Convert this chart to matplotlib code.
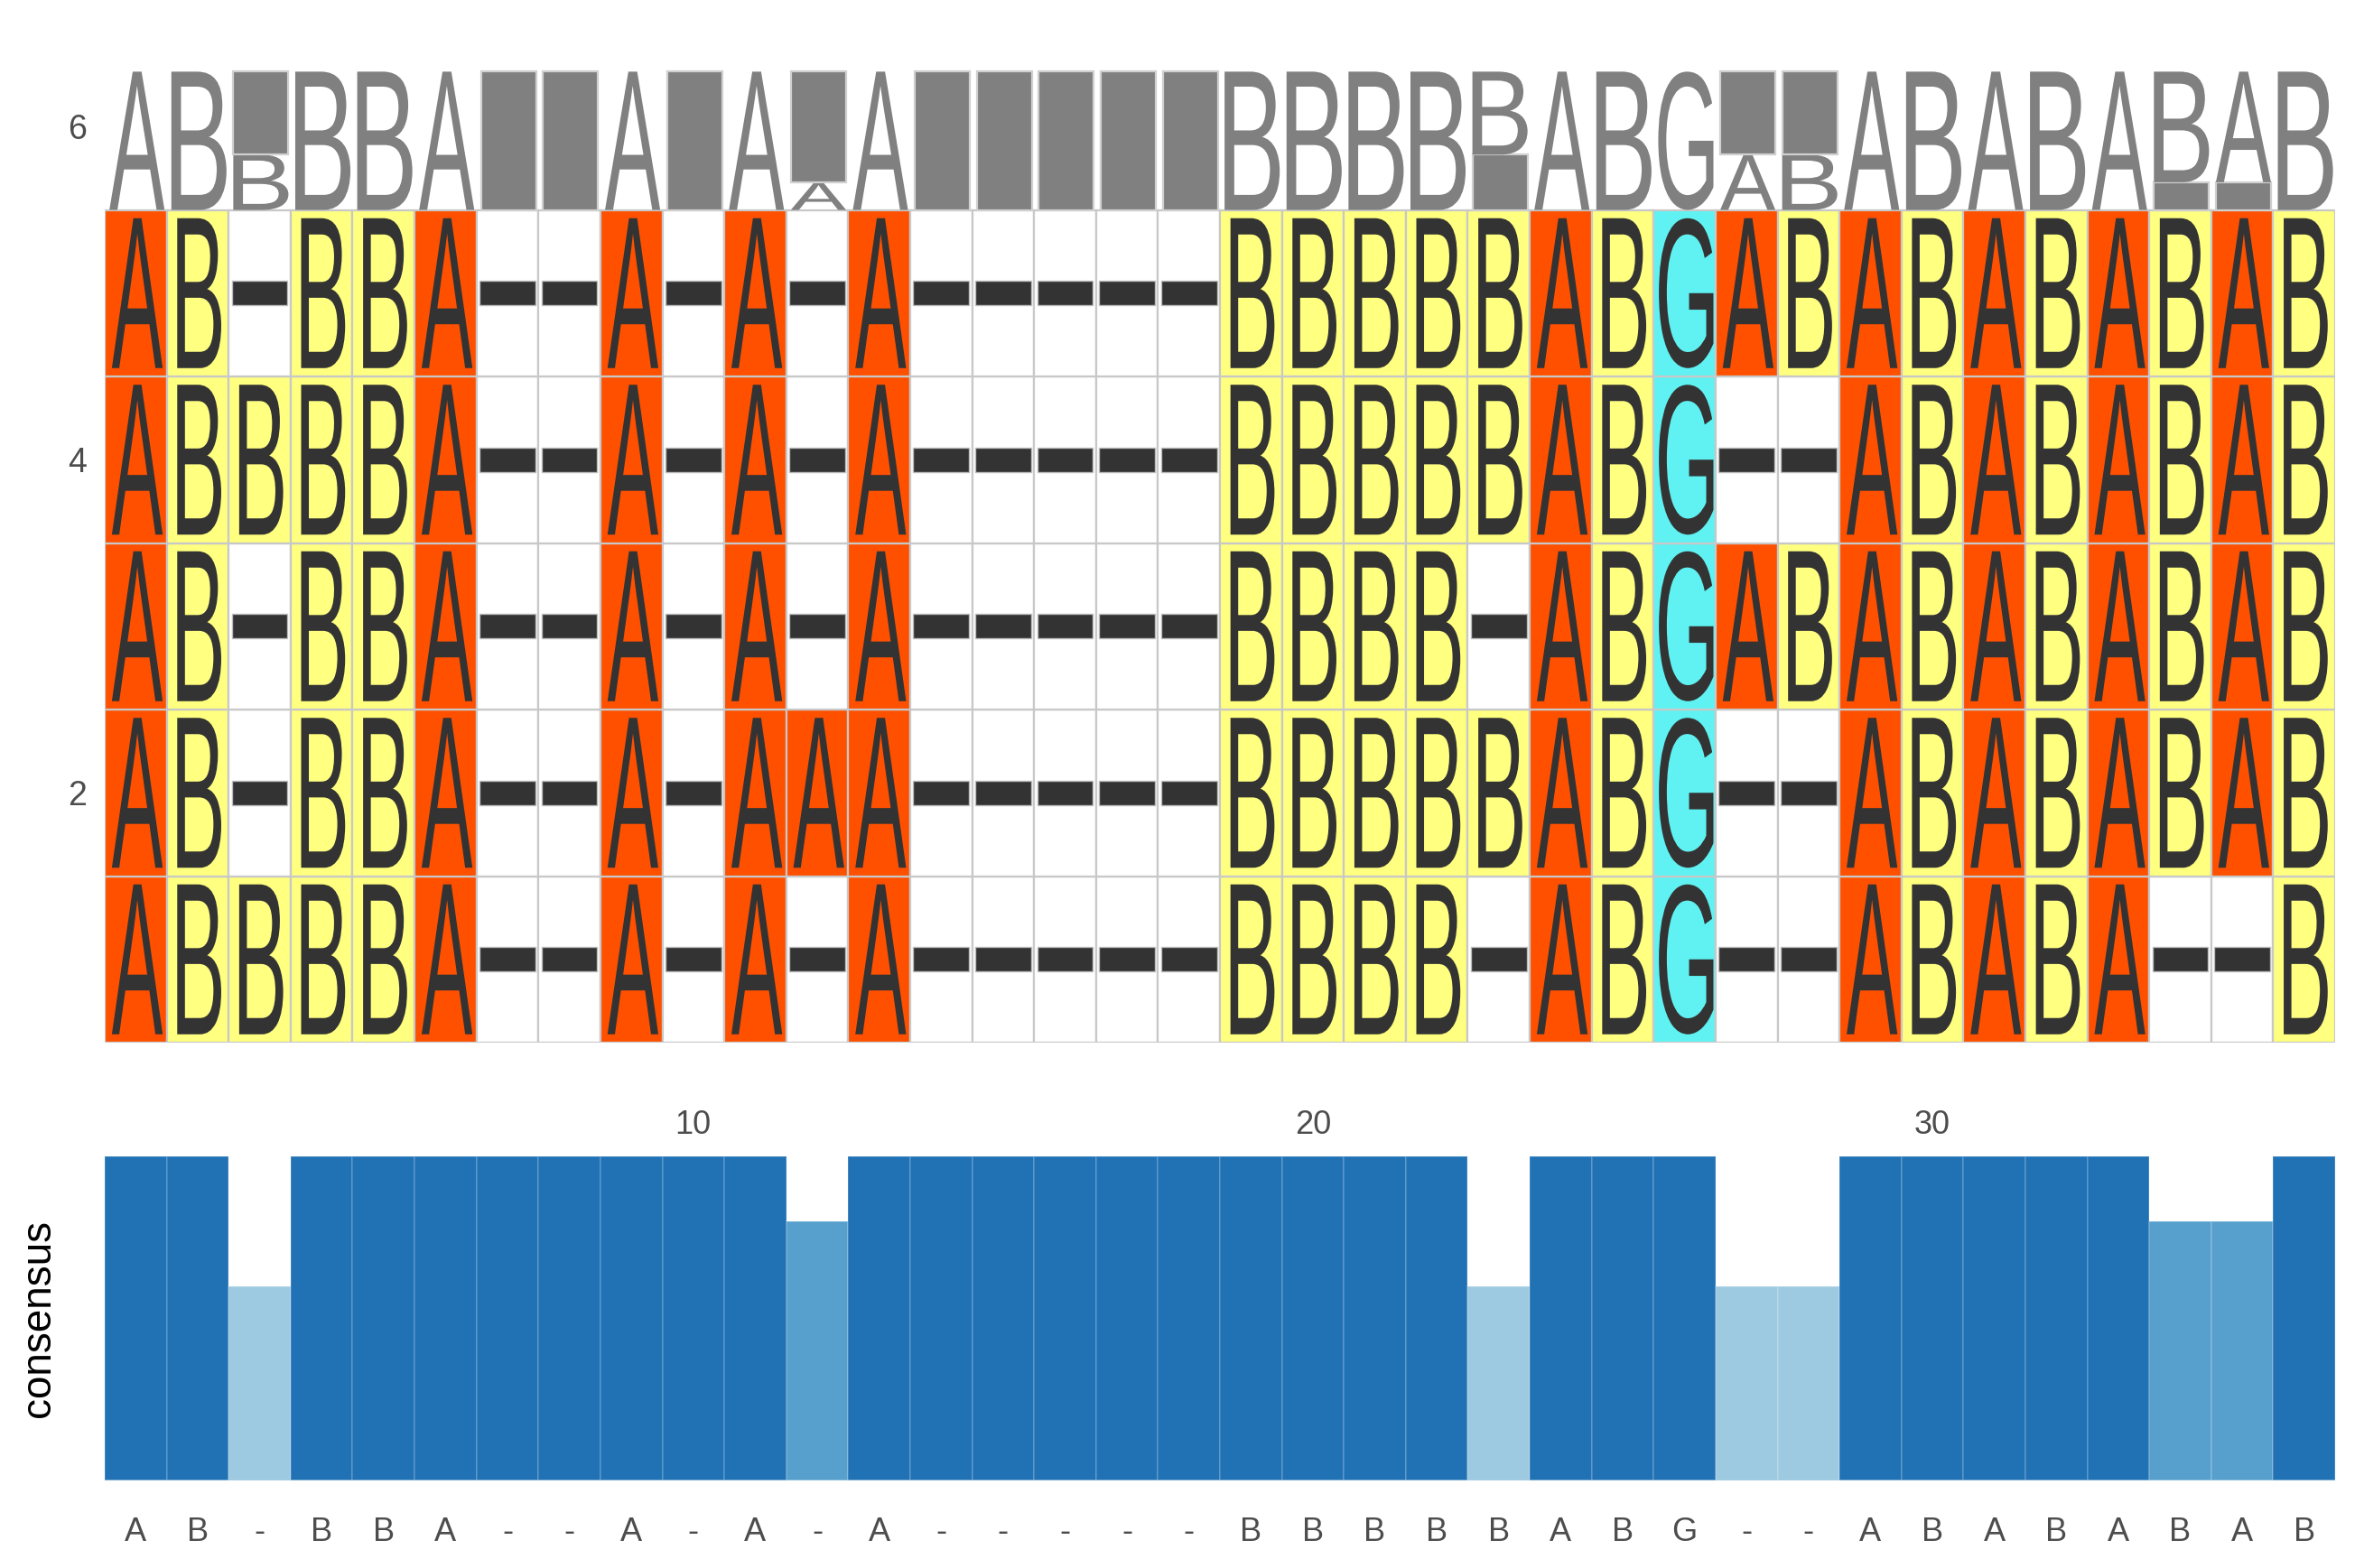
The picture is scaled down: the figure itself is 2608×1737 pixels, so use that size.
import numpy as np
import matplotlib
matplotlib.use('Agg')
import matplotlib.pyplot as plt
from matplotlib.textpath import TextPath
from matplotlib.font_manager import FontProperties
from matplotlib.patches import PathPatch, Rectangle
from matplotlib.transforms import Affine2D
from collections import Counter

plt.rcParams['font.family'] = ['Liberation Sans', 'DejaVu Sans']

# ---- data: aligned sequences, row 1 (bottom) to row 5 (top) ----
sequences = [
    "ABBBBA--A-A-A-----BBBB-ABG--ABABA--B",
    "AB-BBA--A-AAA-----BBBBBABG--ABABABAB",
    "AB-BBA--A-A-A-----BBBB-ABGABABABABAB",
    "ABBBBA--A-A-A-----BBBBBABG--ABABABAB",
    "AB-BBA--A-A-A-----BBBBBABGABABABABAB",
]
y_ticks = [2, 4, 6]
top_ticks = [10, 20, 30]

tile_colors = {'A': '#FF5000', 'B': '#FFFF80', 'G': '#60F2F2', '-': '#FFFFFF'}
bar_colors = {1.0: '#2171B5', 0.8: '#57A0CE', 0.6: '#9ECAE1'}
glyph_w = {'A': 0.82, 'B': 0.71, 'G': 0.88}

n_seq = len(sequences)
n_col = len(sequences[0])
columns = [[s[i] for s in sequences] for i in range(n_col)]
freqs = [Counter(c) for c in columns]
consensus = [f.most_common(1)[0][0] for f in freqs]
cons_val = [f.most_common(1)[0][1] / n_seq for f in freqs]

fp = FontProperties(family='Liberation Sans')
_cache = {}
def glyph(ax, ch, x0, y0, w, h, color):
    if ch not in _cache:
        _cache[ch] = TextPath((0, 0), ch, size=1, prop=fp)
    p = _cache[ch]
    ext = p.get_extents()
    tr = (Affine2D().translate(-ext.x0, -ext.y0)
          .scale(w / ext.width, h / ext.height).translate(x0, y0))
    ax.add_patch(PathPatch(tr.transform_path(p), facecolor=color,
                           edgecolor='none', lw=0, zorder=4))

W, H = 2608, 1737
fig = plt.figure(figsize=(W / 200, H / 200), dpi=200)

# ---- main alignment panel ----
px_l, px_r = 116, 2586
y_bot_px, unit_px = 1155, 184.5
ytop = 6.4
ax = fig.add_axes([px_l / W, (H - y_bot_px) / H, (px_r - px_l) / W,
                   (ytop - 0.5) * unit_px / H])
ax.set_xlim(0.5, n_col + 0.5)
ax.set_ylim(0.5, ytop)
for s in ax.spines.values():
    s.set_visible(False)
ax.set_xticks([])
ax.set_yticks(y_ticks)
ax.set_yticklabels([str(t) for t in y_ticks])
ax.tick_params(axis='y', length=0, pad=7.2, labelsize=13.5, labelcolor='#4D4D4D')

for r, seq in enumerate(sequences, start=1):
    for c, ch in enumerate(seq, start=1):
        ax.add_patch(Rectangle((c - 0.5, r - 0.5), 1, 1, facecolor=tile_colors[ch],
                               edgecolor='#C8C8C8', lw=0.8, zorder=2))
        if ch == '-':
            ax.add_patch(Rectangle((c - 0.45, r - 0.073), 0.9, 0.146,
                                   facecolor='#333333', edgecolor='#BBBBBB',
                                   lw=0.5, zorder=4))
        else:
            w = glyph_w.get(ch, 0.8)
            glyph(ax, ch, c + 0.025 - w / 2, r - 0.45, w, 0.9, '#333333')

# ---- sequence logo on top ----
logo_base, logo_h = 5.5, 0.83
for c, f in enumerate(freqs, start=1):
    items = sorted(f.items(), key=lambda kv: kv[1])  # smallest at bottom
    y = logo_base
    for ch, cnt in items:
        h = logo_h * cnt / n_seq
        x0, w = c - 0.5 + 0.075, 0.89
        if ch == '-':
            ax.add_patch(Rectangle((x0, y), w, h, facecolor='#808080',
                                   edgecolor='#D0D0D0', lw=0.8, zorder=4))
        else:
            glyph(ax, ch, x0, y, w, h, '#808080')
        y += h

# ---- consensus bar panel ----
b_top, b_bot = 1281, 1640
ax2 = fig.add_axes([px_l / W, (H - b_bot) / H, (px_r - px_l) / W, (b_bot - b_top) / H])
pos = np.arange(1, n_col + 1)
cols = [bar_colors[round(v, 1)] for v in cons_val]
ax2.bar(pos, cons_val, width=1.0, color=cols, edgecolor=(1, 1, 1, 0.18), lw=0.6)
ax2.set_xlim(0.5, n_col + 0.5)
ax2.set_ylim(0, 1)
for s in ax2.spines.values():
    s.set_visible(False)
ax2.set_yticks([])
ax2.set_xticks(pos)
ax2.set_xticklabels(consensus)
ax2.tick_params(axis='x', length=0, pad=14.4, labelsize=13, labelcolor='#4D4D4D')
ax2.axhline(0, color='#9ECAE1', lw=0.6, alpha=0.6)
sec = ax2.secondary_xaxis('top')
sec.set_xticks(top_ticks)
sec.set_xticklabels([str(t) for t in top_ticks])
sec.tick_params(axis='x', length=0, pad=6, labelsize=13, labelcolor='#4D4D4D')
for s in sec.spines.values():
    s.set_visible(False)

fig.text(43 / W, 1 - 1461 / H, 'consensus', rotation=90, ha='center', va='center',
         fontsize=16.5, color='black')

fig.savefig('out.png', dpi=200)
